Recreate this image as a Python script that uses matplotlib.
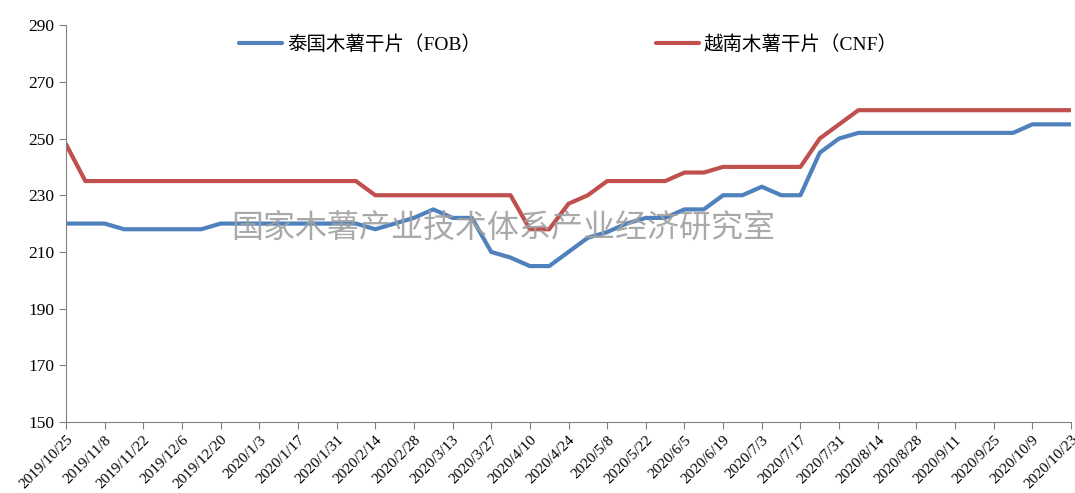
import numpy as np
import pandas as pd
import matplotlib.pyplot as plt

plt.rcParams['font.family'] = ['Liberation Serif', 'Noto Sans CJK SC']

# weekly dates, 2019/10/25 .. 2020/10/23
dates = pd.date_range('2019-10-25', periods=53, freq='7D')
labels = [f"{d.year}/{d.month}/{d.day}" for d in dates]

thai_fob = [220, 220, 220, 218, 218, 218, 218, 218, 220, 220, 220, 220, 220, 220,
            220, 220, 218, 220, 222, 225, 222, 222, 210, 208, 205, 205, 210, 215,
            217, 220, 222, 222, 225, 225, 230, 230, 233, 230, 230, 245, 250, 252,
            252, 252, 252, 252, 252, 252, 252, 252, 255, 255, 255]
viet_cnf = [248, 235, 235, 235, 235, 235, 235, 235, 235, 235, 235, 235, 235, 235,
            235, 235, 230, 230, 230, 230, 230, 230, 230, 230, 218, 218, 227, 230,
            235, 235, 235, 235, 238, 238, 240, 240, 240, 240, 240, 250, 255, 260,
            260, 260, 260, 260, 260, 260, 260, 260, 260, 260, 260]

x = np.arange(len(labels))

fig = plt.figure(figsize=(10.75, 4.93), dpi=100)
ax = fig.add_axes([0.0614, 0.144, 0.9349, 0.805])

ax.plot(x, thai_fob, color='#4F81BD', lw=3, solid_capstyle='round', label='泰国木薯干片（FOB）')
ax.plot(x, viet_cnf, color='#C0504D', lw=3, solid_capstyle='round', label='越南木薯干片（CNF）')

ax.set_xlim(0, len(x) - 1)
ax.set_ylim(150, 290)
ax.set_yticks(np.arange(150, 291, 20))
ax.set_xticks(x[::2])
ax.set_xticklabels(labels[::2], rotation=45, ha='right', rotation_mode='anchor', fontsize=11)
ax.tick_params(axis='y', labelsize=12.5, length=5, color='#808080')
ax.tick_params(axis='x', length=5, color='#808080', pad=3)

for s in ['top', 'right']:
    ax.spines[s].set_visible(False)
for s in ['left', 'bottom']:
    ax.spines[s].set_color('#808080')

ax.legend(loc='upper center', bbox_to_anchor=(0.5, 1.018), ncol=2, frameon=False,
          fontsize=14, handlelength=2.2, handletextpad=0.25, columnspacing=9.0)

ax.text(0.435, 0.489, '国家木薯产业技术体系产业经济研究室', transform=ax.transAxes,
        ha='center', va='center', fontsize=23, color='#A0A0A0',
        family='Noto Sans CJK SC', alpha=0.9)

fig.savefig('out.png', dpi=100)
